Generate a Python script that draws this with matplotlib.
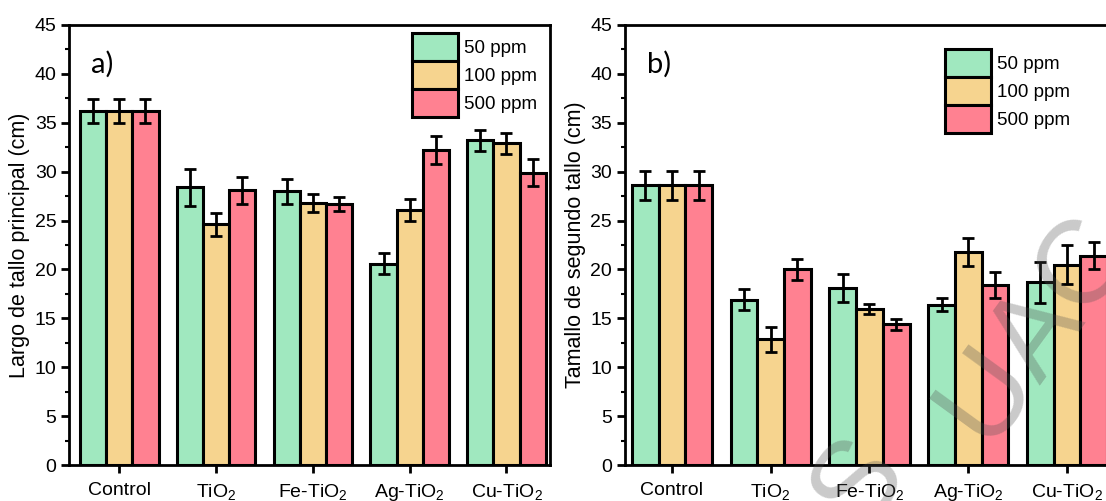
import numpy as np
import matplotlib
matplotlib.use("Agg")
import matplotlib.pyplot as plt
from matplotlib.patches import Patch
from matplotlib.ticker import MultipleLocator

plt.rcParams['font.family'] = ['Liberation Sans', 'DejaVu Sans']
plt.rcParams['mathtext.fontset'] = 'custom'
plt.rcParams['mathtext.rm'] = 'Liberation Sans'
plt.rcParams['mathtext.it'] = 'Liberation Sans'

categories = ['Control', 'TiO$_2$', 'Fe-TiO$_2$', 'Ag-TiO$_2$', 'Cu-TiO$_2$']
doses = ['50 ppm', '100 ppm', '500 ppm']
colors = ['#a0e8bf', '#f6d48f', '#ff8191']

# panel a) largo de tallo principal
a_50 = [36.2, 28.4, 28.0, 20.6, 33.2]
a_100 = [36.2, 24.6, 26.8, 26.1, 32.9]
a_500 = [36.2, 28.1, 26.7, 32.2, 29.9]
a_50_err = [1.2, 1.9, 1.3, 1.05, 1.1]
a_100_err = [1.2, 1.15, 0.95, 1.15, 1.05]
a_500_err = [1.2, 1.4, 0.75, 1.45, 1.4]

# panel b) tamallo de segundo tallo
b_50 = [28.6, 16.9, 18.1, 16.4, 18.7]
b_100 = [28.6, 12.85, 15.95, 21.8, 20.5]
b_500 = [28.6, 20.0, 14.4, 18.4, 21.4]
b_50_err = [1.45, 1.05, 1.45, 0.65, 2.1]
b_100_err = [1.45, 1.3, 0.55, 1.4, 1.95]
b_500_err = [1.45, 1.05, 0.55, 1.3, 1.4]

fig = plt.figure(figsize=(11.06, 5.01), dpi=100)
ax1 = fig.add_axes([69/1106, 36/501, 481/1106, 440/501])
ax2 = fig.add_axes([624.5/1106, 36/501, 490/1106, 440/501])

x = np.arange(len(categories))
w = 0.27


def draw(ax, vals, errs, ylabel, tag, xlim, leg_xy):
    for i, (v, e) in enumerate(zip(vals, errs)):
        ax.bar(x + (i - 1) * w, v, w, color=colors[i], edgecolor='black',
               linewidth=2.2, zorder=2)
        ax.errorbar(x + (i - 1) * w, v, yerr=e, fmt='none', ecolor='black',
                    elinewidth=2, capsize=4, capthick=2, zorder=3)
    ax.set_ylim(0, 45)
    ax.set_xlim(*xlim)
    ax.set_xticks(x)
    ax.set_xticklabels(categories)
    ax.yaxis.set_major_locator(MultipleLocator(5))
    ax.yaxis.set_minor_locator(MultipleLocator(2.5))
    ax.tick_params(axis='both', which='major', direction='out', length=6,
                   width=2, labelsize=14, pad=3)
    ax.tick_params(axis='x', which='major', pad=6)
    ax.tick_params(axis='y', which='minor', direction='out', length=3, width=1.5)
    ax.tick_params(axis='x', which='minor', bottom=False)
    for s in ax.spines.values():
        s.set_linewidth(2)
    ax.set_ylabel(ylabel, fontsize=15.5, labelpad=3)
    ax.text(0.046, 0.911, tag, transform=ax.transAxes, fontsize=21,
            family='Lato', va='center', ha='left')
    handles = [Patch(facecolor=c, edgecolor='black', linewidth=2.2) for c in colors]
    ax.legend(handles, doses, loc='upper left', bbox_to_anchor=leg_xy,
              frameon=False, fontsize=13.5, borderpad=0, labelspacing=0,
              handlelength=2.45, handleheight=1.92, handletextpad=0.35,
              borderaxespad=0)


draw(ax1, [a_50, a_100, a_500], [a_50_err, a_100_err, a_500_err],
     'Largo de tallo principal (cm)', 'a)', (-0.52, 4.45), (0.713, 0.982))
draw(ax2, [b_50, b_100, b_500], [b_50_err, b_100_err, b_500_err],
     'Tamallo de segundo tallo (cm)', 'b)', (-0.48, 4.48), (0.654, 0.945))

# faint repository watermark
wm = dict(fontsize=85, color='#505050', alpha=0.3, rotation=54, ha='center',
          va='center', family='Liberation Sans', zorder=10)
fig.text(0.778, 0.035, 'S', **wm)
fig.text(0.936, 0.345, 'UAC', **wm)

fig.savefig('out.png', dpi=100)
